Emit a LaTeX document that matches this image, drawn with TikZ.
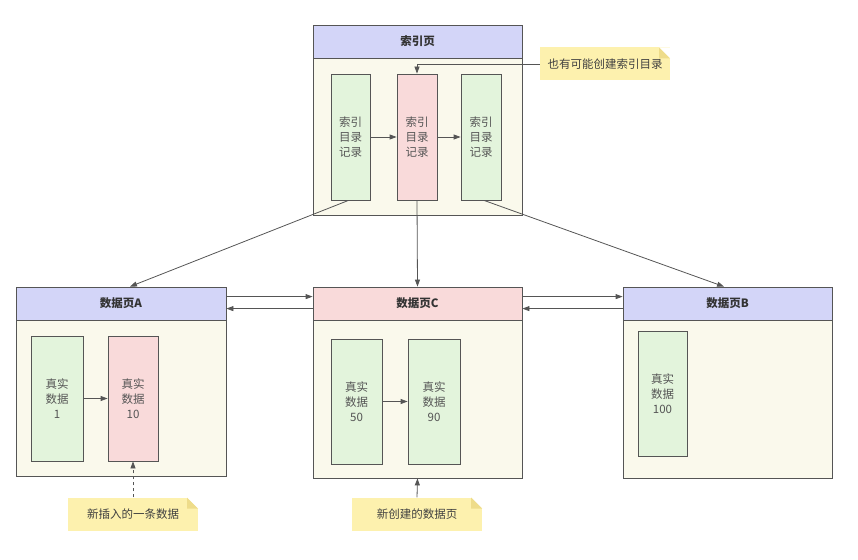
\documentclass[tikz,border=0pt]{standalone}
\usepackage{fontspec}
\setmainfont{Noto Sans CJK SC}
\usepackage{tikz}
\usetikzlibrary{arrows.meta,positioning}
\definecolor{hdrblue}{HTML}{D3D5F8}
\definecolor{hdrpink}{HTML}{F9DADA}
\definecolor{recgreen}{HTML}{E3F4DC}
\definecolor{recpink}{HTML}{F9DADA}
\definecolor{pagebg}{HTML}{FAF9EC}
\definecolor{notebg}{HTML}{FDF1AE}
\definecolor{notefold}{HTML}{EEDC8A}
\definecolor{linegray}{HTML}{555555}
\definecolor{txtgray}{HTML}{555555}

\begin{document}
\begin{tikzpicture}[x=1pt, y=-1pt,
  font=\fontsize{11.5pt}{15pt}\selectfont,
  page/.style={rectangle, draw=linegray, line width=0.8pt, fill=pagebg, minimum width=209pt, inner sep=0pt},
  header/.style={rectangle, draw=linegray, line width=0.8pt, minimum width=209pt, minimum height=33pt, inner sep=0pt, font=\fontsize{11.5pt}{15pt}\selectfont\bfseries, text=black!80},
  record/.style={rectangle, draw=linegray, line width=0.8pt, minimum height=126pt, inner sep=0pt, align=center, text=txtgray},
  note/.style={rectangle, fill=notebg, minimum width=130pt, minimum height=33pt, text=black!75,
    path picture={
      \fill[white] ([xshift=-11pt]path picture bounding box.north east) -- (path picture bounding box.north east) -- ([yshift=-11pt]path picture bounding box.north east) -- cycle;
      \fill[notefold] ([xshift=-11pt]path picture bounding box.north east) -- ([xshift=-11pt,yshift=-11pt]path picture bounding box.north east) -- ([yshift=-11pt]path picture bounding box.north east) -- cycle;
    }},
  arrow/.style={-{Triangle[length=7pt, width=5pt]}, line width=0.8pt, draw=linegray}
]
  \useasboundingbox (0,0) rectangle (858,559);

  % Index page
  \node[page, minimum height=190pt] (idx) at (417.5, 120) {};
  \node[header, fill=hdrblue] (idxhead) at (417.5, 41.5) {索引页};
  \node[record, fill=recgreen, minimum width=39pt] (rec1) at (350.5, 137) {索引\\目录\\记录};
  \node[record, fill=recpink, minimum width=40pt] (rec2) at (417, 137) {索引\\目录\\记录};
  \node[record, fill=recgreen, minimum width=40pt] (rec3) at (481, 137) {索引\\目录\\记录};
  \node[note] (idxnote) at (605, 64) {也有可能创建索引目录};

  % Data page A
  \node[page, minimum width=210pt, minimum height=189pt] (pageA) at (121, 381.5) {};
  \node[header, fill=hdrblue, minimum width=210pt] (headA) at (121, 303.5) {数据页A};
  \node[record, fill=recgreen, minimum width=52pt, minimum height=125pt] (dataA1) at (57, 398.5) {真实\\数据\\1};
  \node[record, fill=recpink, minimum width=50pt, minimum height=125pt] (dataA2) at (133, 398.5) {真实\\数据\\10};
  \node[note] (insnote) at (133, 514) {新插入的一条数据};

  % Data page C
  \node[page, minimum height=191pt] (pageC) at (417.5, 382.5) {};
  \node[header, fill=hdrpink] (headC) at (417.5, 303.5) {数据页C};
  \node[record, fill=recgreen, minimum width=51pt, minimum height=125pt] (dataC1) at (356.5, 401.5) {真实\\数据\\50};
  \node[record, fill=recgreen, minimum width=52pt, minimum height=125pt] (dataC2) at (434, 401.5) {真实\\数据\\90};
  \node[note] (newnote) at (417, 514) {新创建的数据页};

  % Data page B
  \node[page, minimum height=191pt] (pageB) at (727.5, 382.5) {};
  \node[header, fill=hdrblue] (headB) at (727.5, 303.5) {数据页B};
  \node[record, fill=recgreen, minimum width=49pt, minimum height=125pt] (dataB1) at (662.5, 393.5) {真实\\数据\\100};

  % Records inside pages
  \draw[arrow] (rec1) -- (rec2);
  \draw[arrow] (rec2) -- (rec3);
  \draw[arrow] (dataA1) -- (dataA2);
  \draw[arrow] (dataC1) -- (dataC2);

  % Index page to data pages
  \draw[arrow] ([xshift=-2pt]rec1.south) -- ([xshift=9pt]headA.north);
  \draw[arrow] (rec2.south) -- (headC.north);
  \draw[arrow] ([xshift=3pt]rec3.south) -- ([xshift=-3.5pt]headB.north);

  % Links between data pages
  \draw[arrow] ([yshift=-10pt]headA.north east) -- ([yshift=-10pt]headC.north west);
  \draw[arrow] ([yshift=-22pt]headC.north west) -- ([yshift=-22pt]headA.north east);
  \draw[arrow] ([yshift=-10pt]headC.north east) -- ([yshift=-10pt]headB.north west);
  \draw[arrow] ([yshift=-22pt]headB.north west) -- ([yshift=-22pt]headC.north east);

  % Notes
  \draw[arrow] (idxnote.west) -| (rec2.north);
  \draw[arrow, dashed] (insnote.north) -- (dataA2.south);
  \draw[arrow] (newnote.north) -- (pageC.south);
\end{tikzpicture}
\end{document}
